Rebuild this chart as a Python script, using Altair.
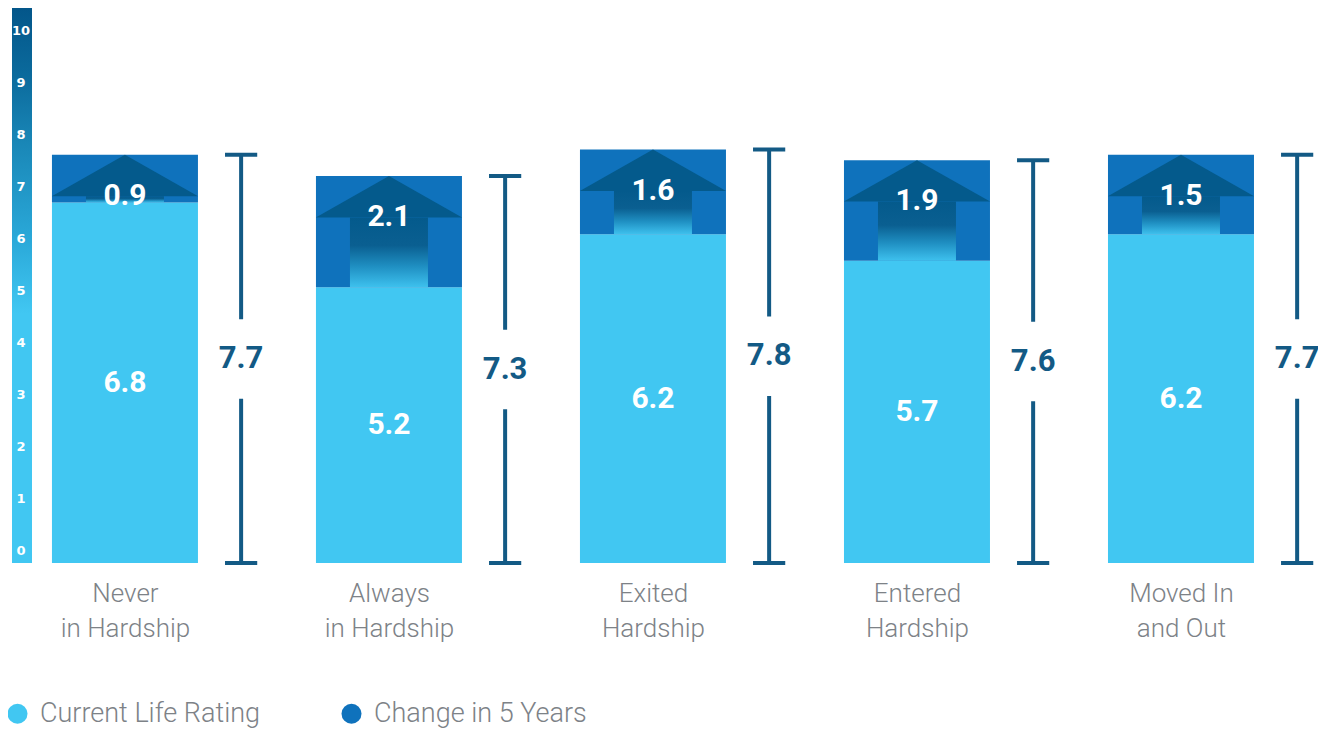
import json
import altair as alt
import pandas as pd

# ---------------- data ----------------
categories = ["Never in Hardship", "Always in Hardship", "Exited Hardship",
              "Entered Hardship", "Moved In and Out"]
label_lines = [["Never", "in Hardship"], ["Always", "in Hardship"],
               ["Exited", "Hardship"], ["Entered", "Hardship"],
               ["Moved In", "and Out"]]
current_rating = [6.8, 5.2, 6.2, 5.7, 6.2]
change_5yr = [0.9, 2.1, 1.6, 1.9, 1.5]
total_rating = [7.7, 7.3, 7.8, 7.6, 7.7]
scale_ticks = [0, 1, 2, 3, 4, 5, 6, 7, 8, 9, 10]
series_names = ["Current Life Rating", "Change in 5 Years"]

# ---------------- style ----------------
LIGHT = "#41c7f2"
MID = "#0f72bc"
DARK = "#045a8c"
BRACKET = "#135a85"
GRAY = "#7d8287"
NUM_FONT = "Roboto"
TXT_FONT = "Roboto"
HEAD = 0.78       # arrow-head height (rating units)
BAR_HALF = 0.277  # half bar width (category units)
BR_OFF = 0.44     # bracket offset from bar centre
CAP = 0.061       # half cap width
GAP = 0.75        # half gap around total label

W, H = 1310, 555

xscale = alt.Scale(domain=[-0.443, 4.519], nice=False, zero=False, padding=0)
yscale = alt.Scale(domain=[0, 10.47], nice=False, zero=False, padding=0)
tick_scale = alt.Scale(domain=[-0.231, 10.442], nice=False, zero=False, padding=0)

base = pd.DataFrame({
    "idx": list(range(len(categories))),
    "category": categories,
    "current": current_rating,
    "change": change_5yr,
    "total": total_rating,
})

seg_rows = []
for i, c in enumerate(categories):
    seg_rows.append({"idx": i, "category": c, "series": series_names[0],
                     "y0": 0.0, "y1": current_rating[i]})
    seg_rows.append({"idx": i, "category": c, "series": series_names[1],
                     "y0": current_rating[i], "y1": total_rating[i]})
segments = pd.DataFrame(seg_rows)

tri_rows = []
for i, c in enumerate(categories):
    t = total_rating[i]
    for off, top in [(-BAR_HALF, t - HEAD), (0.0, t), (BAR_HALF, t - HEAD)]:
        tri_rows.append({"category": c, "tx": i + off, "lo": t - HEAD, "hi": top})
tri = pd.DataFrame(tri_rows)

ticks_df = pd.DataFrame({"tick": scale_ticks})
one = pd.DataFrame({"a": [0]})

label_expr = json.dumps(label_lines) + "[datum.value]"

x_axis = alt.Axis(values=list(range(len(categories))), labelExpr=label_expr,
                  domain=False, ticks=False, grid=False, title=None,
                  labelFontSize=26, labelColor=GRAY, labelFont=TXT_FONT,
                  labelFontWeight=300, labelPadding=17, labelLineHeight=35,
                  labelFlush=False, labelOverlap=False)


def Y(field, scale=yscale):
    return alt.Y(field, scale=scale, axis=None)


# gradient scale column on the left
scale_bar = alt.Chart(one).mark_rect(
    color=alt.Gradient(gradient="linear", x1=0, x2=0, y1=0, y2=1,
                       stops=[alt.GradientStop(offset=0.0, color="#03568a"),
                              alt.GradientStop(offset=0.12, color="#0b6a9c"),
                              alt.GradientStop(offset=0.25, color="#1a88b8"),
                              alt.GradientStop(offset=0.42, color="#2aa9d9"),
                              alt.GradientStop(offset=0.55, color=LIGHT),
                              alt.GradientStop(offset=1.0, color=LIGHT)])
).encode(x=alt.value(4), x2=alt.value(24), y=alt.value(0), y2=alt.value(H))

scale_text = alt.Chart(ticks_df).mark_text(
    color="white", fontSize=13, fontWeight="bold", font="DejaVu Sans",
    align="center", baseline="middle"
).encode(x=alt.value(13), y=Y("tick:Q", tick_scale), text=alt.Text("tick:Q"))

bars = alt.Chart(segments).mark_bar(size=146).encode(
    x=alt.X("idx:Q", scale=xscale, axis=x_axis),
    y=Y("y0:Q"),
    y2="y1:Q",
    color=alt.Color("series:N",
                    scale=alt.Scale(domain=series_names, range=[LIGHT, MID]),
                    legend=alt.Legend(title=None, orient="none", direction="horizontal",
                                      legendX=-4, legendY=H + 137,
                                      symbolType="circle", symbolSize=400,
                                      symbolStrokeWidth=0, labelFontSize=27,
                                      labelFont=TXT_FONT, labelFontWeight=300,
                                      labelColor=GRAY, columnPadding=77,
                                      labelOffset=9, labelLimit=400)),
)

shaft = alt.Chart(base).transform_calculate(
    hb="datum.total - %f" % HEAD
).mark_bar(
    size=78,
    color=alt.Gradient(gradient="linear", x1=0, x2=0, y1=0, y2=1,
                       stops=[alt.GradientStop(offset=0.0, color=DARK),
                              alt.GradientStop(offset=0.4, color="#0a5f91"),
                              alt.GradientStop(offset=0.7, color="#1f8fc2"),
                              alt.GradientStop(offset=1.0, color="#3ec1ee")])
).encode(x=alt.X("idx:Q", scale=xscale), y=Y("hb:Q"), y2="current:Q")

head = alt.Chart(tri).mark_area(color=DARK).encode(
    x=alt.X("tx:Q", scale=xscale),
    y=Y("lo:Q"),
    y2="hi:Q",
    detail="category:N",
)

change_text = alt.Chart(base).mark_text(
    color="white", fontSize=30, fontWeight="bold", font=NUM_FONT,
    baseline="middle", dy=41
).encode(x=alt.X("idx:Q", scale=xscale), y=Y("total:Q"),
         text=alt.Text("change:Q", format=".1f"))

current_text = alt.Chart(base).transform_calculate(
    mid="datum.current / 2"
).mark_text(
    color="white", fontSize=30, fontWeight="bold", font=NUM_FONT, baseline="middle"
).encode(x=alt.X("idx:Q", scale=xscale), y=Y("mid:Q"),
         text=alt.Text("current:Q", format=".1f"))

br = alt.Chart(base).transform_calculate(
    bx="datum.idx + %f" % BR_OFF,
    bl="datum.bx - %f" % CAP,
    brr="datum.bx + %f" % CAP,
    lo_end="datum.total / 2 - %f" % GAP,
    hi_start="datum.total / 2 + %f" % GAP,
    mid="datum.total / 2",
    zero="0",
)

br_low = br.mark_rule(color=BRACKET, strokeWidth=4).encode(
    x=alt.X("bx:Q", scale=xscale), y=Y("zero:Q"), y2="lo_end:Q")
br_high = br.mark_rule(color=BRACKET, strokeWidth=4).encode(
    x=alt.X("bx:Q", scale=xscale), y=Y("hi_start:Q"), y2="total:Q")
cap_low = br.mark_rule(color=BRACKET, strokeWidth=4).encode(
    x=alt.X("bl:Q", scale=xscale), x2="brr:Q", y=Y("zero:Q"))
cap_high = br.mark_rule(color=BRACKET, strokeWidth=4).encode(
    x=alt.X("bl:Q", scale=xscale), x2="brr:Q", y=Y("total:Q"))
total_text = br.mark_text(
    color=BRACKET, fontSize=31, fontWeight="bold", font=NUM_FONT, baseline="middle"
).encode(x=alt.X("bx:Q", scale=xscale), y=Y("mid:Q"),
         text=alt.Text("total:Q", format=".1f"))

chart = alt.layer(
    scale_bar, scale_text, bars, shaft, head, change_text, current_text,
    br_low, br_high, cap_low, cap_high, total_text
).resolve_scale(y="independent").properties(
    width=W, height=H,
    autosize=alt.AutoSizeParams(type="none"),
    padding={"left": 0, "top": 0, "right": 0, "bottom": 166},
).configure_view(stroke=None).configure_legend(padding=0)

chart.save("out.html", embed_options={"renderer": "svg", "actions": False})
